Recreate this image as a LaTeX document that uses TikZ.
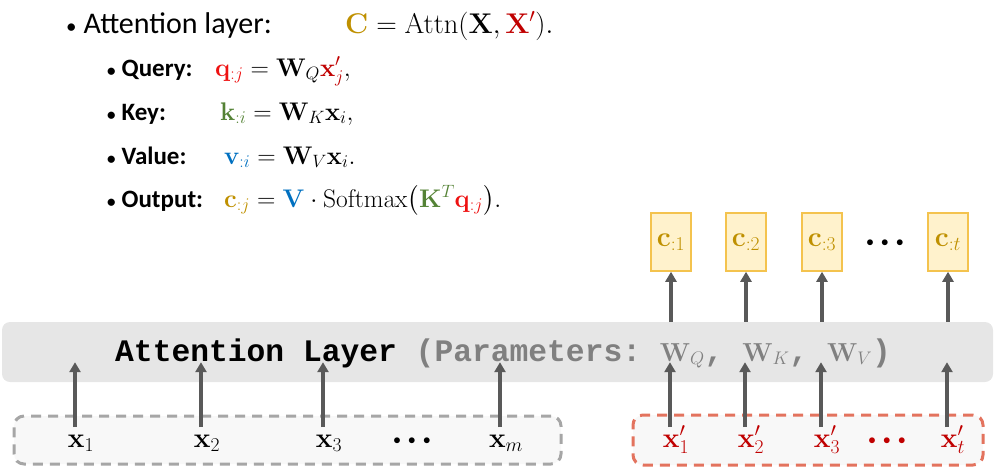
\RequirePackage{fix-cm}
\documentclass[tikz,border=0pt]{standalone}
\usepackage[no-math]{fontspec}
\usepackage{amsmath}
\newfontfamily\calibri{Carlito}
\setmonofont{Liberation Mono}
\usetikzlibrary{arrows.meta}
\usetikzlibrary{positioning}
\definecolor{cgold}{HTML}{BF9000}
\definecolor{xred}{HTML}{C00000}
\definecolor{qred}{HTML}{EE1111}
\definecolor{kgreen}{HTML}{548235}
\definecolor{vblue}{HTML}{0070C0}
\definecolor{cfill}{HTML}{FFF2CC}
\definecolor{cborder}{HTML}{F4C34E}
\definecolor{bargray}{HTML}{E6E6E6}
\definecolor{arrowgray}{HTML}{595959}
\definecolor{dashgray}{HTML}{A6A6A6}
\definecolor{dashred}{HTML}{E3735E}
\definecolor{seqfill}{HTML}{F8F8F8}
\newcommand{\bul}[1]{{\fontsize{#1}{#1}\selectfont\textbullet}}
\newcommand{\dotrow}{{\fontsize{15}{15}\selectfont$\bullet\mkern5mu\bullet\mkern5mu\bullet$}}
\tikzstyle{head}=[anchor=base west, inner sep=0, font=\calibri\fontsize{30}{36}\selectfont]
\tikzstyle{item}=[anchor=base west, inner sep=0, font=\calibri\bfseries\fontsize{25}{30}\selectfont]
\tikzstyle{eqn}=[anchor=base west, inner sep=0, font=\fontsize{25.5}{30}\selectfont]
\tikzstyle{layer}=[fill=bargray, rounded corners=8pt, minimum width=991pt, minimum height=60pt]
\tikzstyle{cbox}=[draw=cborder, fill=cfill, line width=1.5pt, minimum width=40pt,
                  minimum height=58pt, inner sep=0, text=cgold, font=\fontsize{28}{30}\selectfont]
\tikzstyle{xlab}=[anchor=base, inner sep=1pt, font=\fontsize{28}{30}\selectfont]
\tikzstyle{seqbox}=[rounded corners=10pt, line width=3pt, dash pattern=on 10pt off 7pt, fill=seqfill]
\tikzstyle{flow}=[line width=3.5pt, draw=arrowgray, -{Triangle[length=10pt,width=11pt]}]

\begin{document}
\begin{tikzpicture}[x=1pt,y=-1pt]
\useasboundingbox (0,0) rectangle (1003,475);
% formulas on top
\node[head] (lhead) at (66,33) {\bul{21}\hspace{7pt}Attention layer:};
\node[eqn, font=\fontsize{28.5}{36}\selectfont] (ehead) at (345,33)
  {$\textcolor{cgold}{\mathbf{C}} = \mathrm{Attn}(\mathbf{X}, \textcolor{xred}{\mathbf{X}'}).$};
\node[item] (lq) at (107,76) {\bul{17}\hspace{6pt}Query:};
\node[eqn] (eq) at (215,76) {$\textcolor{qred}{\mathbf{q}_{:j}} = \mathbf{W}_{Q}\textcolor{xred}{\mathbf{x}'_{j}},$};
\node[item] (lk) at (107,120) {\bul{17}\hspace{6pt}Key:};
\node[eqn] (ek) at (220,120) {$\textcolor{kgreen}{\mathbf{k}_{:i}} = \mathbf{W}_{K}\mathbf{x}_{i},$};
\node[item] (lv) at (107,164) {\bul{17}\hspace{6pt}Value:};
\node[eqn] (ev) at (224,164) {$\textcolor{vblue}{\mathbf{v}_{:i}} = \mathbf{W}_{V}\mathbf{x}_{i}.$};
\node[item] (lo) at (107,207) {\bul{17}\hspace{6pt}Output:};
\node[eqn] (eo) at (224,207) {$\textcolor{cgold}{\mathbf{c}_{:j}} = \textcolor{vblue}{\mathbf{V}}\cdot\mathrm{Softmax}\bigl(\textcolor{kgreen}{\mathbf{K}^{T}}\textcolor{qred}{\mathbf{q}_{:j}}\bigr).$};
% the layer
\node[layer] (layer) at (497.5,352) {};
\node[anchor=base west, inner sep=0, font=\ttfamily\bfseries\fontsize{31.3}{36}\selectfont] (ltext) at (115,361)
  {Attention Layer \textcolor{gray}{(Parameters: {\fontsize{26}{36}\selectfont$\mathbf{W}_Q$}, {\fontsize{26}{36}\selectfont$\mathbf{W}_K$}, {\fontsize{26}{36}\selectfont$\mathbf{W}_V$})}};
% outputs
\node[cbox] (c1) at (671,242) {$\mathbf{c}_{:1}$};
\node[cbox] (c2) at (746,242) {$\mathbf{c}_{:2}$};
\node[cbox] (c3) at (822,242) {$\mathbf{c}_{:3}$};
\node[anchor=center, inner sep=0] (cdots) at (885,243) {\dotrow};
\node[cbox] (ct) at (948,242) {$\mathbf{c}_{:t}$};
% inputs
\node[seqbox, draw=dashgray, minimum width=547pt, minimum height=48pt] (xs) at (287.5,440) {};
\node[seqbox, draw=dashred, minimum width=350pt, minimum height=50pt] (xps) at (808,440) {};
\node[xlab] (x1) at (81,447) {$\mathbf{x}_1$};
\node[xlab] (x2) at (207,447) {$\mathbf{x}_2$};
\node[xlab] (x3) at (329,447) {$\mathbf{x}_3$};
\node[anchor=center, inner sep=0] (xdots) at (412,441) {\dotrow};
\node[xlab] (xm) at (506,447) {$\mathbf{x}_m$};
\node[xlab, text=xred] (xp1) at (676,447) {$\mathbf{x}'_1$};
\node[xlab, text=xred] (xp2) at (751,447) {$\mathbf{x}'_2$};
\node[xlab, text=xred] (xp3) at (827,447) {$\mathbf{x}'_3$};
\node[anchor=center, inner sep=0, text=xred] (xpdots) at (887,441) {\dotrow};
\node[xlab, text=xred] (xpt) at (953,447) {$\mathbf{x}'_t$};
% arrows
\foreach \n in {x1,x2,x3,xm,xp1,xp2,xp3,xpt}
  \draw[flow] ([shift={(-6pt,20pt)}]\n.base) -- ([shift={(-6pt,20pt)}]\n.base |- layer.south);
\foreach \n in {c1,c2,c3,ct}
  \draw[flow] (\n |- layer.north) -- (\n.south);
\end{tikzpicture}
\end{document}
